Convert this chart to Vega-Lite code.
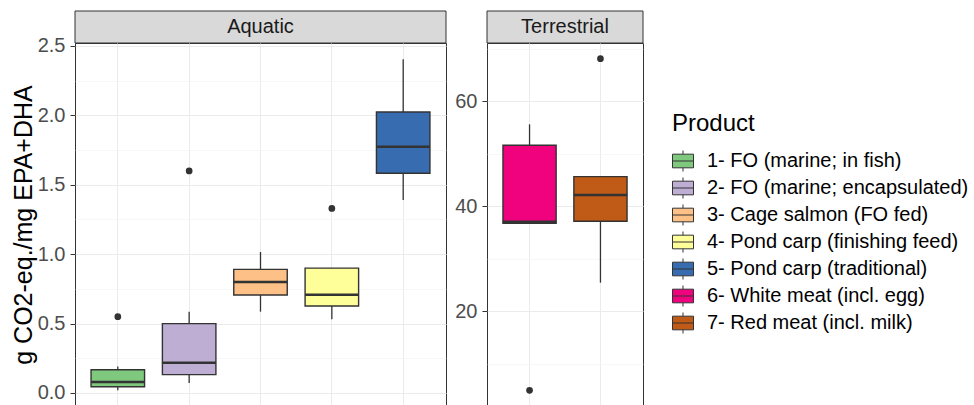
{
  "$schema": "https://vega.github.io/schema/vega-lite/v6.json",
  "background": "white",
  "padding": {"left": 10, "top": 10, "right": 5, "bottom": 0},
  "datasets": {
    "boxes": [
      {"panel": "Aquatic", "product": "1- FO (marine; in fish)", "lo": 0.02, "q1": 0.045, "med": 0.079, "q3": 0.168, "hi": 0.19},
      {"panel": "Aquatic", "product": "2- FO (marine; encapsulated)", "lo": 0.072, "q1": 0.132, "med": 0.218, "q3": 0.5, "hi": 0.586},
      {"panel": "Aquatic", "product": "3- Cage salmon (FO fed)", "lo": 0.586, "q1": 0.706, "med": 0.8, "q3": 0.891, "hi": 1.016},
      {"panel": "Aquatic", "product": "4- Pond carp (finishing feed)", "lo": 0.531, "q1": 0.627, "med": 0.708, "q3": 0.9, "hi": 0.9},
      {"panel": "Aquatic", "product": "5- Pond carp (traditional)", "lo": 1.39, "q1": 1.583, "med": 1.775, "q3": 2.024, "hi": 2.404},
      {"panel": "Terrestrial", "product": "6- White meat (incl. egg)", "lo": 36.7, "q1": 36.7, "med": 37.0, "q3": 51.56, "hi": 55.56},
      {"panel": "Terrestrial", "product": "7- Red meat (incl. milk)", "lo": 25.4, "q1": 37.1, "med": 42.1, "q3": 45.6, "hi": 45.6}
    ],
    "outliers": [
      {"panel": "Aquatic", "product": "1- FO (marine; in fish)", "value": 0.55},
      {"panel": "Aquatic", "product": "2- FO (marine; encapsulated)", "value": 1.6},
      {"panel": "Aquatic", "product": "4- Pond carp (finishing feed)", "value": 1.33},
      {"panel": "Terrestrial", "product": "6- White meat (incl. egg)", "value": 4.9},
      {"panel": "Terrestrial", "product": "7- Red meat (incl. milk)", "value": 68.06}
    ]
  },
  "spacing": 7,
  "resolve": {"scale": {"x": "independent", "y": "independent", "color": "shared"}},
  "hconcat": [
    {
      "bounds": "flush",
      "spacing": 0,
      "vconcat": [
        {
          "width": 371,
          "height": 32,
          "data": {"values": [{"panel": "Aquatic"}]},
          "layer": [
            {"mark": {"type": "rect", "fill": "#D9D9D9", "stroke": "#333333", "strokeWidth": 1}, "encoding": {}},
            {"mark": {"type": "text", "fontSize": 20, "color": "#1A1A1A"}, "encoding": {"text": {"field": "panel"}}}
          ]
        },
        {
          "width": 371,
          "height": 363,
          "resolve": {"axis": {"y": "independent"}},
          "encoding": {
            "x": {
              "field": "product", "type": "nominal",
              "scale": {"domain": ["1- FO (marine; in fish)", "2- FO (marine; encapsulated)", "3- Cage salmon (FO fed)", "4- Pond carp (finishing feed)", "5- Pond carp (traditional)"], "paddingInner": 0.25, "paddingOuter": 0.225},
              "axis": {"title": null, "labels": false, "ticks": false, "domain": false, "grid": true, "bandPosition": 0.5, "gridColor": "#EBEBEB", "gridWidth": 1}
            }
          },
          "layer": [
            {
              "data": {"name": "boxes"},
              "transform": [{"filter": "datum.panel === 'Aquatic'"}],
              "mark": {"type": "rule", "color": "#333333", "strokeWidth": 1.3},
              "encoding": {
                "y": {"field": "lo", "type": "quantitative", "scale": {"domain": [-0.0937, 2.5216], "nice": false, "zero": false},
                  "axis": {"values": [0, 0.5, 1, 1.5, 2, 2.5], "format": ".1f", "title": "g CO2-eq./mg EPA+DHA", "grid": true, "gridColor": "#EBEBEB", "gridWidth": 1, "domain": false, "tickColor": "#333333", "tickSize": 5, "tickWidth": 1, "labelFontSize": 20, "labelColor": "#4D4D4D", "labelPadding": 5, "labelFlush": false, "titleFontSize": 25, "titleFontWeight": "normal", "titleColor": "#000000", "titlePadding": 1}},
                "y2": {"field": "hi"}
              }
            },
            {
              "data": {"name": "boxes"},
              "transform": [{"filter": "datum.panel === 'Aquatic'"}],
              "mark": {"type": "bar", "stroke": "#333333", "strokeWidth": 1.4, "opacity": 1},
              "encoding": {
                "y": {"field": "q1", "type": "quantitative",
                  "axis": {"orient": "right", "values": [0.25, 0.75, 1.25, 1.75, 2.25], "labels": false, "ticks": false, "domain": false, "grid": true, "gridColor": "#F2F2F2", "gridWidth": 0.6, "title": null}},
                "y2": {"field": "q3"},
                "fill": {"field": "product", "type": "nominal", "title": "Product",
                  "scale": {"domain": ["1- FO (marine; in fish)", "2- FO (marine; encapsulated)", "3- Cage salmon (FO fed)", "4- Pond carp (finishing feed)", "5- Pond carp (traditional)", "6- White meat (incl. egg)", "7- Red meat (incl. milk)"], "range": ["#7FC97F", "#BEAED4", "#FDC086", "#FFFF99", "#386CB0", "#F0027F", "#BF5B17"]},
                  "legend": {"orient": "none", "legendX": 597, "legendY": 101}}
              }
            },
            {
              "data": {"name": "boxes"},
              "transform": [{"filter": "datum.panel === 'Aquatic'"}],
              "mark": {"type": "tick", "color": "#333333", "thickness": 2.5, "size": 53.5, "opacity": 1},
              "encoding": {"y": {"field": "med", "type": "quantitative", "axis": null}}
            },
            {
              "data": {"name": "outliers"},
              "transform": [{"filter": "datum.panel === 'Aquatic'"}],
              "mark": {"type": "point", "filled": true, "color": "#333333", "size": 45, "opacity": 1},
              "encoding": {"y": {"field": "value", "type": "quantitative", "axis": null}}
            }
          ]
        }
      ]
    },
    {
      "bounds": "flush",
      "spacing": 0,
      "vconcat": [
        {
          "width": 156,
          "height": 32,
          "data": {"values": [{"panel": "Terrestrial"}]},
          "layer": [
            {"mark": {"type": "rect", "fill": "#D9D9D9", "stroke": "#333333", "strokeWidth": 1}, "encoding": {}},
            {"mark": {"type": "text", "fontSize": 20, "color": "#1A1A1A"}, "encoding": {"text": {"field": "panel"}}}
          ]
        },
        {
          "width": 156,
          "height": 363,
          "resolve": {"axis": {"y": "independent"}},
          "encoding": {
            "x": {
              "field": "product", "type": "nominal",
              "scale": {"domain": ["6- White meat (incl. egg)", "7- Red meat (incl. milk)"], "paddingInner": 0.25, "paddingOuter": 0.225},
              "axis": {"title": null, "labels": false, "ticks": false, "domain": false, "grid": true, "bandPosition": 0.5, "gridColor": "#EBEBEB", "gridWidth": 1}
            }
          },
          "layer": [
            {
              "data": {"name": "boxes"},
              "transform": [{"filter": "datum.panel === 'Terrestrial'"}],
              "mark": {"type": "rule", "color": "#333333", "strokeWidth": 1.3},
              "encoding": {
                "y": {"field": "lo", "type": "quantitative", "scale": {"domain": [1.905, 71.05], "nice": false, "zero": false},
                  "axis": {"values": [20, 40, 60], "format": "d", "title": null, "grid": true, "gridColor": "#EBEBEB", "gridWidth": 1, "domain": false, "tickColor": "#333333", "tickSize": 5, "tickWidth": 1, "labelFontSize": 20, "labelColor": "#4D4D4D", "labelPadding": 5, "labelFlush": false}},
                "y2": {"field": "hi"}
              }
            },
            {
              "data": {"name": "boxes"},
              "transform": [{"filter": "datum.panel === 'Terrestrial'"}],
              "mark": {"type": "bar", "stroke": "#333333", "strokeWidth": 1.4, "opacity": 1},
              "encoding": {
                "y": {"field": "q1", "type": "quantitative",
                  "axis": {"orient": "right", "values": [10, 30, 50, 70], "labels": false, "ticks": false, "domain": false, "grid": true, "gridColor": "#F2F2F2", "gridWidth": 0.6, "title": null}},
                "y2": {"field": "q3"},
                "fill": {"field": "product", "type": "nominal", "title": "Product",
                  "scale": {"domain": ["1- FO (marine; in fish)", "2- FO (marine; encapsulated)", "3- Cage salmon (FO fed)", "4- Pond carp (finishing feed)", "5- Pond carp (traditional)", "6- White meat (incl. egg)", "7- Red meat (incl. milk)"], "range": ["#7FC97F", "#BEAED4", "#FDC086", "#FFFF99", "#386CB0", "#F0027F", "#BF5B17"]},
                  "legend": {"orient": "none", "legendX": 597, "legendY": 101}}
              }
            },
            {
              "data": {"name": "boxes"},
              "transform": [{"filter": "datum.panel === 'Terrestrial'"}],
              "mark": {"type": "tick", "color": "#333333", "thickness": 2.5, "size": 53.5, "opacity": 1},
              "encoding": {"y": {"field": "med", "type": "quantitative", "axis": null}}
            },
            {
              "data": {"name": "outliers"},
              "transform": [{"filter": "datum.panel === 'Terrestrial'"}],
              "mark": {"type": "point", "filled": true, "color": "#333333", "size": 45, "opacity": 1},
              "encoding": {"y": {"field": "value", "type": "quantitative", "axis": null}}
            }
          ]
        }
      ]
    }
  ],
  "config": {
    "font": "Liberation Sans",
    "view": {"stroke": "#333333", "strokeWidth": 1},
    "legend": {
      "titleFontSize": 24,
      "titleFontWeight": "normal",
      "titleColor": "#000000",
      "titlePadding": 14,
      "labelFontSize": 20,
      "labelColor": "#000000",
      "labelOffset": 13,
      "labelLimit": 0,
      "symbolType": "M-1,-0.65H1V0.65H-1Z M-1,0H1 M0,-0.65V-1 M0,0.65V1",
      "symbolSize": 441,
      "symbolStrokeColor": "#333333",
      "symbolStrokeWidth": 1,
      "symbolOpacity": 1,
      "rowPadding": 1,
      "padding": 0
    }
  }
}
